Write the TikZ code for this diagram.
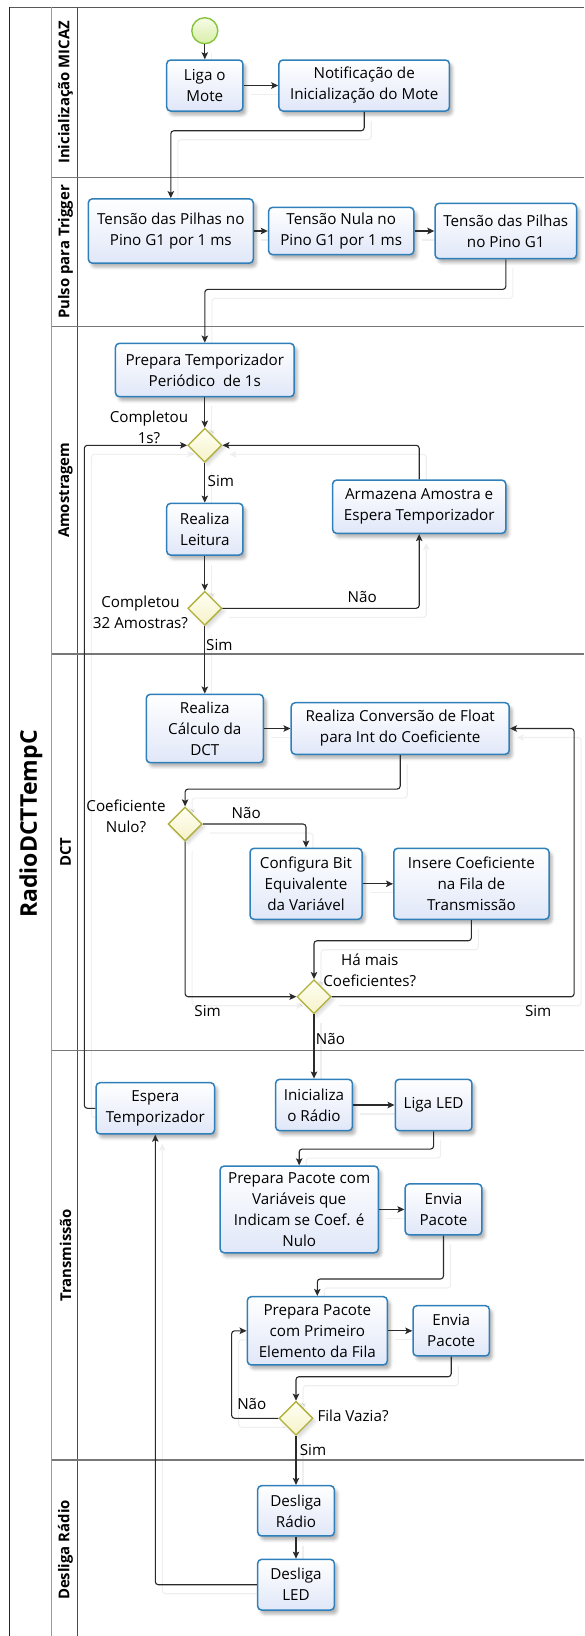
\documentclass[tikz,border=0pt]{standalone}
\usepackage{fontspec}
\setmainfont{Open Sans}
\usetikzlibrary{arrows.meta,shapes.geometric,shadows.blur}

\definecolor{taskline}{HTML}{2F7FBA}
\definecolor{tasktop}{HTML}{FFFFFF}
\definecolor{taskbot}{HTML}{E0E7F8}
\definecolor{gwline}{HTML}{B0B03A}
\definecolor{gwtop}{HTML}{FFFFF4}
\definecolor{gwbot}{HTML}{F5F2C8}
\definecolor{evline}{HTML}{86C440}
\definecolor{evtop}{HTML}{F6FCE8}
\definecolor{evbot}{HTML}{D8EEA6}
\definecolor{flowcol}{HTML}{2A2A2A}
\definecolor{flowshade}{HTML}{EFEFEF}
\definecolor{lanesep}{HTML}{777777}

\newcommand\tasktext{\fontsize{15.2}{21}\selectfont}
\newcommand\lanetext{\fontsize{14.9}{18}\selectfont\bfseries}
\newcommand\pooltext{\fontsize{23}{28}\selectfont\bfseries}

\pgfdeclarelayer{background}
\pgfsetlayers{background,main}

\tikzset{
  task/.style={draw=taskline, line width=1.5pt, rounded corners=4pt,
    top color=tasktop, bottom color=taskbot, align=center, inner sep=0pt,
    font=\tasktext,
    blur shadow={shadow xshift=3pt, shadow yshift=-4pt,
      shadow blur radius=3pt, shadow opacity=30}},
  gateway/.style={diamond, draw=gwline, line width=1.3pt,
    top color=gwtop, bottom color=gwbot, minimum width=34pt,
    minimum height=34pt, inner sep=0pt,
    blur shadow={shadow xshift=3pt, shadow yshift=-3pt,
      shadow blur radius=3pt, shadow opacity=15}},
  startev/.style={circle, draw=evline, line width=1.4pt,
    top color=evtop, bottom color=evbot, minimum size=26pt, inner sep=0pt},
  flow/.style={draw=flowcol, line width=1.1pt, rounded corners=3pt,
    -{Stealth[length=7pt,width=6.5pt,inset=1.5pt]}},
  flowshadow/.style={draw=flowshade, line width=1.1pt, rounded corners=3pt,
    -{Stealth[length=7pt,width=6.5pt,inset=1.5pt]},
    transform canvas={shift={(7pt,-9pt)}}},
  lbl/.style={font=\tasktext, inner sep=0pt, align=center},
  lanelabel/.style={rotate=90, font=\lanetext, inner sep=0pt},
  sep/.style={draw=lanesep, line width=1.2pt}
}

% a sequence flow together with its faint offset shadow
\newcommand\conn[1]{%
  \begin{pgfonlayer}{background}\draw[flowshadow] #1;\end{pgfonlayer}%
  \draw[flow] #1;}

\begin{document}
\begin{tikzpicture}[x=1pt, y=-1pt]
\useasboundingbox (0,0) rectangle (584,1636);

% pool frame and lanes
\draw[line width=1.6pt, black!65] (9.3,7.3) -- (584,7.3);
\draw[line width=1.4pt, black!85] (9.3,7.3) -- (9.3,1636);
\draw[line width=1.4pt, black!40] (51.5,7.3) -- (51.5,1636);
\draw[line width=1.2pt, black!70] (77.5,7.3) -- (77.5,1636);
\foreach \yy in {177.3,326.7,654,1050.7,1460}
  \draw[sep] (51.5,\yy) -- (584,\yy);

\node[rotate=90, font=\pooltext, inner sep=0pt] (pooltitle) at (31,824) {RadioDCTTempC};
\node[lanelabel] (lane1) at (65.5,92.3)  {Inicialização MICAZ};
\node[lanelabel] (lane2) at (65.5,252)   {Pulso para Trigger};
\node[lanelabel] (lane3) at (65.5,490.3) {Amostragem};
\node[lanelabel] (lane4) at (65.5,852.3) {DCT};
\node[lanelabel] (lane5) at (65.5,1255.3){Transmissão};
\node[lanelabel] (lane6) at (65.5,1550)  {Desliga Rádio};

% Inicialização MICAZ
\node[startev] (start) at (204.8,30.7) {};
\node[task, minimum width=76.3pt, minimum height=51pt] (liga) at (204.8,85.5) {Liga o\\Mote};
\node[task, minimum width=170.5pt, minimum height=51pt] (notif) at (364.2,85.5) {Notificação de\\Inicialização do Mote};

% Pulso para Trigger
\node[task, minimum width=165pt, minimum height=64.3pt] (tensao1) at (170.8,231) {Tensão das Pilhas no\\Pino G1 por 1 ms};
\node[task, minimum width=145.3pt, minimum height=47.3pt] (tensao0) at (341.2,231) {Tensão Nula no\\Pino G1 por 1 ms};
\node[task, minimum width=141.5pt, minimum height=55.3pt] (tensao2) at (505.8,231) {Tensão das Pilhas\\no Pino G1};

% Amostragem
\node[task, minimum width=178.7pt, minimum height=53.4pt] (preptemp) at (204.8,370) {Prepara Temporizador\\Periódico\ \ de 1s};
\node[gateway] (gw1) at (204.8,445.3) {};
\node[task, minimum width=76.3pt, minimum height=51.7pt] (leitura) at (204.8,529.2) {Realiza\\Leitura};
\node[task, minimum width=173.2pt, minimum height=53.3pt] (armazena) at (419.2,506.7) {Armazena Amostra e\\Espera Temporizador};
\node[gateway] (gw2) at (204.8,608.3) {};

% DCT
\node[task, minimum width=117pt, minimum height=68.4pt] (calcdct) at (204.8,728.5) {Realiza\\Cálculo da\\DCT};
\node[task, minimum width=218pt, minimum height=51.6pt] (conv) at (400.2,728.5) {Realiza Conversão de Float\\para Int do Coeficiente};
\node[gateway] (gw3) at (185.1,824) {};
\node[task, minimum width=112pt, minimum height=71pt] (configura) at (306,883.8) {Configura Bit\\Equivalente\\da Variável};
\node[task, minimum width=155.3pt, minimum height=71pt] (insere) at (471.4,883.8) {Insere Coeficiente\\na Fila de\\Transmissão};
\node[gateway] (gw4) at (314,996.7) {};

% Transmissão
\node[task, minimum width=118.4pt, minimum height=51.3pt] (espera) at (155.3,1108.3) {Espera\\Temporizador};
\node[task, minimum width=76.8pt, minimum height=51.4pt] (inicradio) at (314,1105) {Inicializa\\o Rádio};
\node[task, minimum width=76.7pt, minimum height=51.4pt] (ligaled) at (433.6,1105) {Liga LED};
\node[task, minimum width=158.3pt, minimum height=86.7pt] (preppac1) at (299.2,1209.4) {Prepara Pacote com\\Variáveis que\\Indicam se Coef. é\\Nulo};
\node[task, minimum width=76.7pt, minimum height=51pt] (envia1) at (443.5,1209.4) {Envia\\Pacote};
\node[task, minimum width=140pt, minimum height=68.3pt] (preppac2) at (317.3,1330.8) {Prepara Pacote\\com Primeiro\\Elemento da Fila};
\node[task, minimum width=76.4pt, minimum height=50.3pt] (envia2) at (451.2,1330.8) {Envia\\Pacote};
\node[gateway] (gw5) at (296,1418.3) {};

% Desliga Rádio
\node[task, minimum width=76.7pt, minimum height=50.3pt] (desradio) at (296,1510.8) {Desliga\\Rádio};
\node[task, minimum width=76.7pt, minimum height=50.7pt] (desled) at (296,1584.7) {Desliga\\LED};

% gateway and flow labels
\node[lbl] (q1) at (149,427) {Completou\\1s?};
\node[lbl, anchor=west] (s1) at (207.5,481) {Sim};
\node[lbl] (q2) at (140.5,612) {Completou\\32 Amostras?};
\node[lbl] (n2) at (362.2,596.7) {Não};
\node[lbl] (s2) at (219.4,645) {Sim};
\node[lbl] (q3) at (126,816) {Coeficiente\\Nulo?};
\node[lbl] (n3) at (246.2,813.3) {Não};
\node[lbl] (q4) at (369.8,970.4) {Há mais\\Coeficientes?};
\node[lbl] (s4a) at (207.6,1010.7) {Sim};
\node[lbl] (s4b) at (538.2,1010.7) {Sim};
\node[lbl] (n4) at (330.5,1039.3) {Não};
\node[lbl, anchor=west] (q5) at (317.3,1416) {Fila Vazia?};
\node[lbl] (n5) at (251.8,1404) {Não};
\node[lbl] (s5) at (313,1450) {Sim};

% sequence flows
\conn{(start) -- (liga)}
\conn{(liga) -- (notif)}
\conn{(notif.south) -- ++(0,19) -| (tensao1.north)}
\conn{(tensao1) -- (tensao0)}
\conn{(tensao0) -- (tensao2)}
\conn{(tensao2.south) -- ++(0,30) -| (preptemp.north)}
\conn{(preptemp) -- (gw1)}
\conn{(gw1) -- (leitura)}
\conn{(leitura) -- (gw2)}
\conn{(gw2.east) -| (armazena.south)}
\conn{(armazena.north) |- (gw1.east)}
\conn{(gw2) -- (calcdct)}
\conn{(calcdct) -- (conv)}
\conn{(conv.south) -- ++(0,34) -| (gw3.north)}
\conn{(gw3.east) -| (configura.north)}
\conn{(configura) -- (insere)}
\conn{(insere.south) -- ++(0,20.7) -| (gw4.north)}
\conn{(gw3.south) |- (gw4.west)}
\conn{(gw4.east) -- ++(242.5,0) |- (conv.east)}
\conn{(gw4) -- (inicradio)}
\conn{(inicradio) -- (ligaled)}
\conn{(ligaled.south) -- ++(0,17.6) -| (preppac1.north)}
\conn{(preppac1) -- (envia1)}
\conn{(envia1.south) -- ++(0,43.3) -| (preppac2.north)}
\conn{(preppac2) -- (envia2)}
\conn{(envia2.south) -- ++(0,20) -| (gw5.north)}
\conn{(gw5.west) -- ++(-46.7,0) |- (preppac2.west)}
\conn{(gw5) -- (desradio)}
\conn{(desradio) -- (desled)}
\conn{(desled.west) -| (espera.south)}
\conn{(espera.west) -- ++(-11,0) |- (gw1.west)}
\end{tikzpicture}
\end{document}
